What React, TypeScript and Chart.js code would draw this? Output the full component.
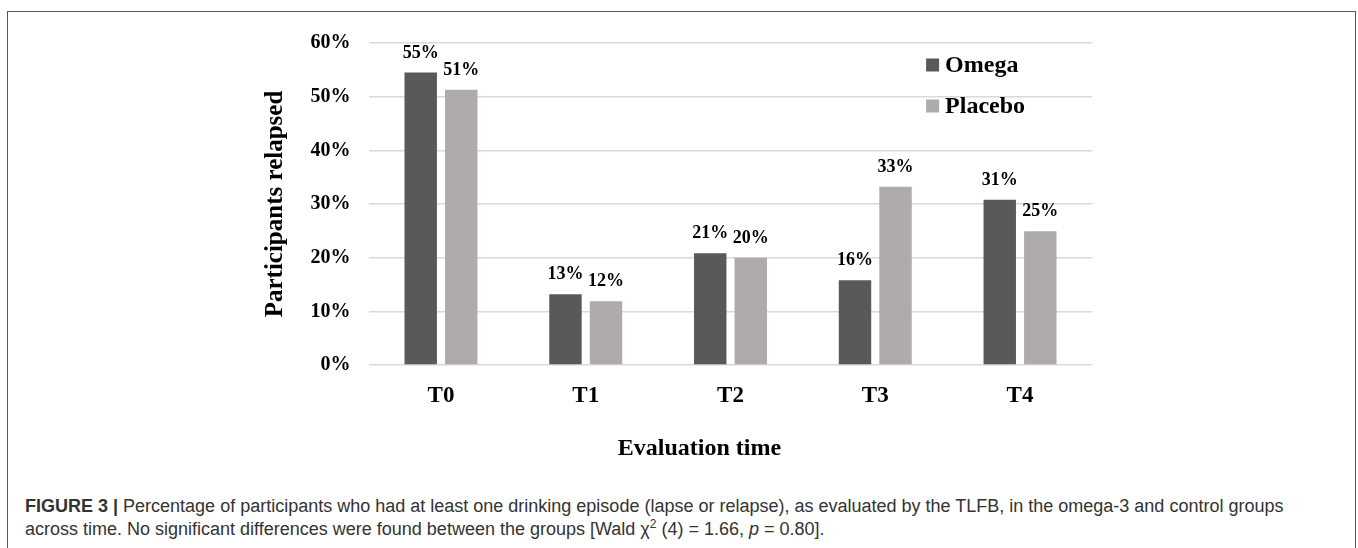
import React, { useEffect, useRef } from "react";
import { Chart, registerables } from "chart.js";

Chart.register(...registerables);

const categories = ["T0", "T1", "T2", "T3", "T4"];
const seriesNames = ["Omega", "Placebo"];
const omegaValues = [54.5, 13.2, 20.8, 15.8, 30.8];
const placeboValues = [51.3, 11.9, 20.0, 33.2, 24.9];
const seriesColors = ["#595959", "#aeabaa"];
const yMin = 0;
const yMax = 60;
const yStep = 10;
const xTitle = "Evaluation time";
const yTitle = "Participants relapsed";

const SERIF = '"Liberation Serif", "Times New Roman", serif';

const barLabelPlugin = {
  id: "barLabels",
  afterDatasetsDraw(chart: any) {
    const ctx = chart.ctx;
    ctx.save();
    ctx.font = `bold 18px ${SERIF}`;
    ctx.fillStyle = "#000";
    ctx.textAlign = "center";
    ctx.textBaseline = "alphabetic";
    chart.data.datasets.forEach((ds: any, i: number) => {
      const meta = chart.getDatasetMeta(i);
      meta.data.forEach((bar: any, j: number) => {
        const v = ds.data[j] as number;
        ctx.fillText(Math.round(v) + "%", bar.x, bar.y - 15);
      });
    });
    ctx.restore();
  },
};

const legendPlugin = {
  id: "sideLegend",
  afterDraw(chart: any) {
    const ctx = chart.ctx;
    const area = chart.chartArea;
    const x0 = area.left + 557.5;
    const rows = [area.top + 22, area.top + 63];
    ctx.save();
    ctx.font = `bold 24px ${SERIF}`;
    ctx.textAlign = "left";
    ctx.textBaseline = "middle";
    chart.data.datasets.forEach((ds: any, i: number) => {
      const y = rows[i];
      ctx.fillStyle = ds.backgroundColor;
      ctx.fillRect(x0, y - 6.5, 13, 13);
      ctx.fillStyle = "#000";
      ctx.fillText(ds.label, x0 + 19, y + 0.5);
    });
    ctx.restore();
  },
};

const xTitlePlugin = {
  id: "xTitle",
  afterDraw(chart: any) {
    const ctx = chart.ctx;
    const area = chart.chartArea;
    ctx.save();
    ctx.font = `bold 24px ${SERIF}`;
    ctx.fillStyle = "#000";
    ctx.textAlign = "center";
    ctx.textBaseline = "middle";
    ctx.fillText(xTitle, (area.left + area.right) / 2 - 31, area.bottom + 83.5);
    ctx.restore();
  },
};

export default function App() {
  const canvasRef = useRef<HTMLCanvasElement | null>(null);

  useEffect(() => {
    if (!canvasRef.current) return;
    const chart = new Chart(canvasRef.current, {
      type: "bar",
      data: {
        labels: categories,
        datasets: [
          {
            label: seriesNames[0],
            data: omegaValues,
            backgroundColor: seriesColors[0],
            categoryPercentage: 0.56,
            barPercentage: 0.8,
          },
          {
            label: seriesNames[1],
            data: placeboValues,
            backgroundColor: seriesColors[1],
            categoryPercentage: 0.56,
            barPercentage: 0.8,
          },
        ],
      },
      options: {
        animation: false,
        responsive: false,
        maintainAspectRatio: false,
        layout: {
          padding: { left: 252, right: 262.6, top: 27, bottom: 8 },
        },
        plugins: {
          legend: { display: false },
          tooltip: { enabled: false },
          title: { display: false },
        },
        scales: {
          x: {
            grid: { display: false, drawTicks: false },
            border: { display: false },
            ticks: {
              color: "#000",
              padding: 17,
              font: { family: SERIF, size: 23, weight: "bold" },
            },
            title: { display: false },
            afterFit(scale: any) {
              scale.height = 100;
            },
          },
          y: {
            min: yMin,
            max: yMax,
            grid: { color: "#d9d9d9", lineWidth: 1.5, drawTicks: false },
            border: { display: false },
            ticks: {
              stepSize: yStep,
              color: "#000",
              padding: 18,
              font: { family: SERIF, size: 20, weight: "bold" },
              callback: (v: any) => v + "%",
            },
            title: {
              display: true,
              text: yTitle,
              color: "#000",
              padding: { top: 0, bottom: 0 },
              font: { family: SERIF, size: 25, weight: "bold" },
            },
            afterFit(scale: any) {
              scale.width = 107.6;
            },
          },
        },
      },
      plugins: [barLabelPlugin, legendPlugin, xTitlePlugin],
    } as any);
    return () => chart.destroy();
  }, []);

  return (
    <div style={{ position: "absolute", left: 0, top: 0, width: 1358, height: 548, overflow: "hidden", background: "#fff" }}>
      <div
        style={{
          position: "absolute",
          left: 7,
          top: 11,
          width: 1347,
          height: 560,
          borderLeft: "1.5px solid #555",
          borderTop: "1.5px solid #555",
          borderRight: "1.5px solid #555",
        }}
      />
      <canvas
        ref={canvasRef}
        width={1346}
        height={460}
        style={{ position: "absolute", left: 9, top: 13, width: 1346, height: 460 }}
      />
      <div
        style={{
          position: "absolute",
          left: 25,
          top: 495,
          width: 1320,
          fontFamily: '"Liberation Sans", Arial, sans-serif',
          fontSize: 18,
          lineHeight: "23px",
          color: "#333",
          whiteSpace: "nowrap",
        }}
      >
        <div>
          <b>FIGURE 3 |</b> Percentage of participants who had at least one drinking episode (lapse or relapse), as evaluated by the TLFB, in the omega-3 and control groups
        </div>
        <div>
          across time. No significant differences were found between the groups [Wald χ
          <span style={{ fontSize: 12, verticalAlign: "super", lineHeight: 0 }}>2</span> (4) = 1.66, <i>p</i> = 0.80].
        </div>
      </div>
    </div>
  );
}
